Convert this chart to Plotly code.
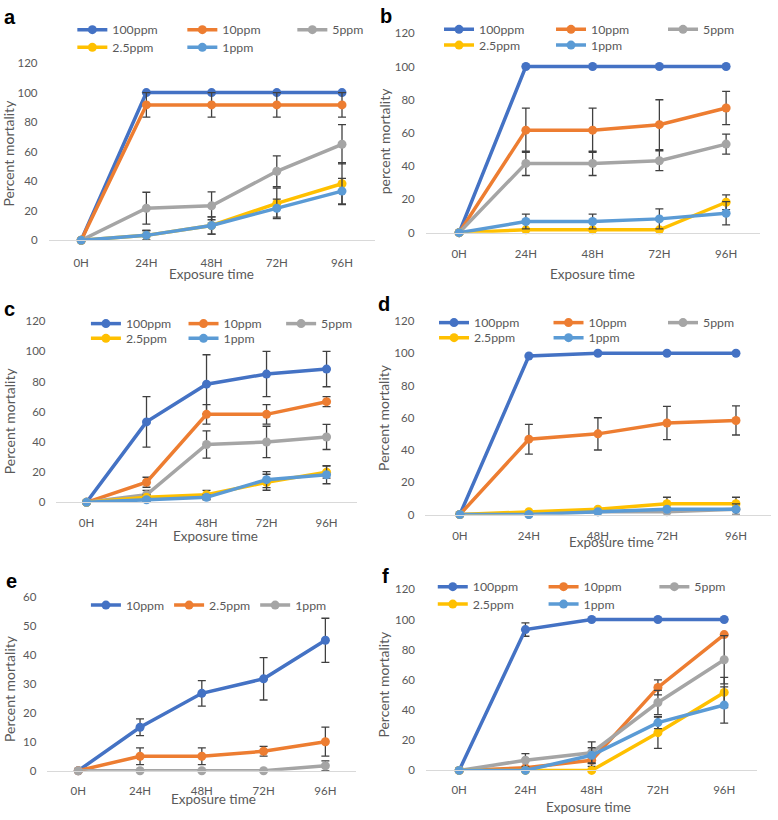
import plotly.graph_objects as go

# ---------------- data ----------------
times = ["0H", "24H", "48H", "72H", "96H"]
conc5 = ["100ppm", "10ppm", "5ppm", "2.5ppm", "1ppm"]
conc3 = ["10ppm", "2.5ppm", "1ppm"]

a_vals = [[0, 100, 100, 100, 100],
          [0, 91.7, 91.7, 91.7, 91.7],
          [0, 21.7, 23.3, 46.7, 65],
          [0, 3.3, 10, 25, 38.3],
          [0, 3.3, 10, 21.7, 33.3]]
a_err = [[0, 0, 0, 0, 0],
         [0, 8.3, 8.3, 8.3, 8.3],
         [0, 10.8, 9.4, 10.4, 13.3],
         [0, 3.3, 5.8, 10.4, 14.2],
         [0, 3.3, 5.8, 6.1, 8.6]]

b_vals = [[0, 100, 100, 100, 100],
          [0, 61.7, 61.7, 65, 75],
          [0, 41.7, 41.7, 43.3, 53.3],
          [0, 1.7, 1.7, 1.7, 18.3],
          [0, 6.7, 6.7, 8.3, 11.7]]
b_err = [[0, 0, 0, 0, 0],
         [0, 13.3, 13.3, 15, 10],
         [0, 7.3, 7.3, 6, 6],
         [0, 0, 0, 0, 4.4],
         [0, 4.4, 4.4, 6, 7]]

c_vals = [[0, 53.3, 78.3, 85, 88.3],
          [0, 13.3, 58.3, 58.3, 66.7],
          [0, 5, 38.3, 40, 43.3],
          [0, 3.3, 5, 13.3, 20],
          [0, 1.7, 3.3, 15, 18.3]]
c_err = [[0, 16.7, 19.5, 15, 11.7],
         [0, 3.3, 6.5, 6.5, 3.3],
         [0, 2.9, 9, 10.4, 8.3],
         [0, 1.7, 2.9, 5.3, 4],
         [0, 1, 1.7, 5.3, 6]]

d_vals = [[0, 98.3, 100, 100, 100],
          [0, 46.7, 50, 56.7, 58.3],
          [0, 0, 1.7, 1.7, 3.3],
          [0, 1.7, 3.3, 6.7, 6.7],
          [0, 0, 1.7, 3.3, 3.3]]
d_err = [[0, 0, 0, 0, 0],
         [0, 9.2, 10, 10.3, 9],
         [0, 0, 0, 0, 0],
         [0, 0, 0, 4, 4],
         [0, 0, 0, 0, 3.3]]

e_vals = [[0, 15, 26.7, 31.7, 45],
          [0, 5, 5, 6.7, 10],
          [0, 0, 0, 0, 1.7]]
e_err = [[0, 2.9, 4.4, 7.3, 7.6],
         [0, 2.9, 2.9, 1.7, 5],
         [0, 0, 0, 0, 1.7]]

f_vals = [[0, 93.3, 100, 100, 100],
          [0, 1.7, 6.7, 55, 90],
          [0, 6.7, 11.7, 45, 73.3],
          [0, 0, 0, 25, 51.7],
          [0, 0, 10, 31.7, 43.3]]
f_err = [[0, 4.4, 0, 0, 0],
         [0, 0, 4, 5, 0],
         [0, 4.4, 7.2, 8, 16],
         [0, 0, 0, 10.4, 10],
         [0, 0, 5, 4, 12]]

# ---------------- styling / layout ----------------
W, H = 778, 820
colors5 = ["#4472C4", "#ED7D31", "#A5A5A5", "#FFC000", "#5B9BD5"]
colors3 = ["#4472C4", "#ED7D31", "#A5A5A5"]
FONT = "Lato"
TXT = "#595959"

panels = [
    dict(key="a", vals=a_vals, err=a_err, names=conc5, cols=colors5, ymax=120,
         x0=49, x1=378, yb=237, yt=57, leg_x=[78, 78], leg_y=[23, 41], ew=65,
         ytitle="Percent mortality", yt_pos=(9, 148), xt_pos=(213, 271), let_pos=(10, 10),
         tick_y=257),
    dict(key="b", vals=b_vals, err=b_err, names=conc5, cols=colors5, ymax=120,
         x0=429.6, x1=766.4, yb=229.3, yt=26.7, leg_x=[448, 448], leg_y=[22.7, 38.7], ew=67,
         ytitle="percent mortality", yt_pos=(388, 136), xt_pos=(598, 271), let_pos=(389, 9),
         tick_y=248),
    dict(key="c", vals=c_vals, err=c_err, names=conc5, cols=colors5, ymax=120,
         x0=57, x1=359.8, yb=503.3, yt=319.3, leg_x=[91.7, 91.7], leg_y=[321.7, 336.7], ew=52.6,
         ytitle="Percent mortality", yt_pos=(9, 420), xt_pos=(217, 538), let_pos=(10, 307),
         tick_y=521.7),
    dict(key="d", vals=d_vals, err=d_err, names=conc5, cols=colors5, ymax=120,
         x0=429.2, x1=777.5, yb=515.7, yt=319, leg_x=[443, 443], leg_y=[320.7, 336], ew=69.5,
         ytitle="Percent mortality", yt_pos=(387, 417), xt_pos=(617, 544), let_pos=(387, 302),
         tick_y=535),
    dict(key="e", vals=e_vals, err=e_err, names=conc3, cols=colors3, ymax=60,
         x0=47.8, x1=359.5, yb=776, yt=599.3, leg_x=[91.7], leg_y=[607.7], ew=None,
         ytitle="Percent mortality", yt_pos=(9, 692), xt_pos=(215, 805), let_pos=(12, 583),
         tick_y=794),
    dict(key="f", vals=f_vals, err=f_err, names=conc5, cols=colors5, ymax=120,
         x0=429.9, x1=764.2, yb=775.7, yt=591.7, leg_x=[441.7, 441.7], leg_y=[589, 606.7], ew=65.8,
         ytitle="Percent mortality", yt_pos=(387, 688), xt_pos=(594, 812.5), let_pos=(389, 578),
         tick_y=793),
]


def px_x(v):
    return v / W


def px_y(v):
    return 1 - v / H


fig = go.Figure()
layout = dict(width=W, height=H, margin=dict(l=0, r=0, t=0, b=0),
              paper_bgcolor="white", plot_bgcolor="white",
              font=dict(family=FONT, color=TXT), showlegend=True)
annotations = []
legend_idx = 0

for i, p in enumerate(panels):
    n = i + 1
    xa = "x" if n == 1 else f"x{n}"
    ya = "y" if n == 1 else f"y{n}"
    xkey = "xaxis" if n == 1 else f"xaxis{n}"
    ykey = "yaxis" if n == 1 else f"yaxis{n}"

    nser = len(p["names"])
    rows = [list(range(0, min(3, nser))), list(range(3, nser))] if nser > 3 else [list(range(nser))]
    row_legend = []
    for r, members in enumerate(rows):
        legend_idx += 1
        lname = "legend" if legend_idx == 1 else f"legend{legend_idx}"
        row_legend.append((lname, members))
        ld = dict(x=px_x(p["leg_x"][r] - 5), y=px_y(p["leg_y"][r]), xanchor="left", yanchor="middle",
                  orientation="h", bgcolor="rgba(0,0,0,0)", borderwidth=0,
                  font=dict(family=FONT, size=12.3, color=TXT), itemclick=False, itemdoubleclick=False,
                  tracegroupgap=0)
        if p["ew"]:
            ld["entrywidth"] = p["ew"]
            ld["entrywidthmode"] = "pixels"
        layout[lname] = ld

    for s in range(nser):
        lname = [ln for ln, m in row_legend if s in m][0]
        errs = [e if e > 0 else None for e in p["err"][s]]
        fig.add_trace(go.Scatter(
            x=list(range(len(times))), y=p["vals"][s], name=p["names"][s],
            mode="lines+markers", xaxis=xa, yaxis=ya, legend=lname,
            line=dict(color=p["cols"][s], width=3.5),
            marker=dict(color=p["cols"][s], size=9),
            error_y=dict(type="data", array=errs, visible=True, color="#404040",
                         thickness=1.3, width=4),
            cliponaxis=False,
        ))

    layout[xkey] = dict(domain=[px_x(p["x0"]), px_x(p["x1"])], anchor=ya,
                        range=[-0.5, len(times) - 0.5], tickvals=list(range(len(times))),
                        ticktext=times, showgrid=False, zeroline=False, showline=True,
                        linecolor="#D9D9D9", linewidth=1, ticks="",
                        tickfont=dict(family=FONT, size=11.5, color=TXT),
                        ticklabelstandoff=int(round(max(0, p["tick_y"] - p["yb"] - 8))), fixedrange=True)
    layout[ykey] = dict(domain=[px_y(p["yb"]), px_y(p["yt"])], anchor=xa,
                        range=[0, p["ymax"]], dtick=p["ymax"] / 6, showgrid=False, zeroline=False,
                        showline=False, ticks="", tickfont=dict(family=FONT, size=11.5, color=TXT),
                        ticklabelstandoff=10, fixedrange=True)

    annotations.append(dict(text=p["key"], x=px_x(p["let_pos"][0]), y=px_y(p["let_pos"][1]),
                            xref="paper", yref="paper", showarrow=False, xanchor="center",
                            yanchor="middle",
                            font=dict(family="Liberation Sans", size=20, color="black", weight="bold")))
    annotations.append(dict(text=p["ytitle"], x=px_x(p["yt_pos"][0]), y=px_y(p["yt_pos"][1]),
                            xref="paper", yref="paper", showarrow=False, textangle=-90,
                            xanchor="center", yanchor="middle",
                            font=dict(family=FONT, size=14, color=TXT)))
    annotations.append(dict(text="Exposure time", x=px_x(p["xt_pos"][0]), y=px_y(p["xt_pos"][1]),
                            xref="paper", yref="paper", showarrow=False,
                            xanchor="center", yanchor="middle",
                            font=dict(family=FONT, size=13.5, color=TXT)))

layout["annotations"] = annotations
fig.update_layout(**layout)
fig.write_html("out.html", config={"displayModeBar": False},
               post_script="document.body.style.margin='0px';document.body.style.overflow='hidden';")
